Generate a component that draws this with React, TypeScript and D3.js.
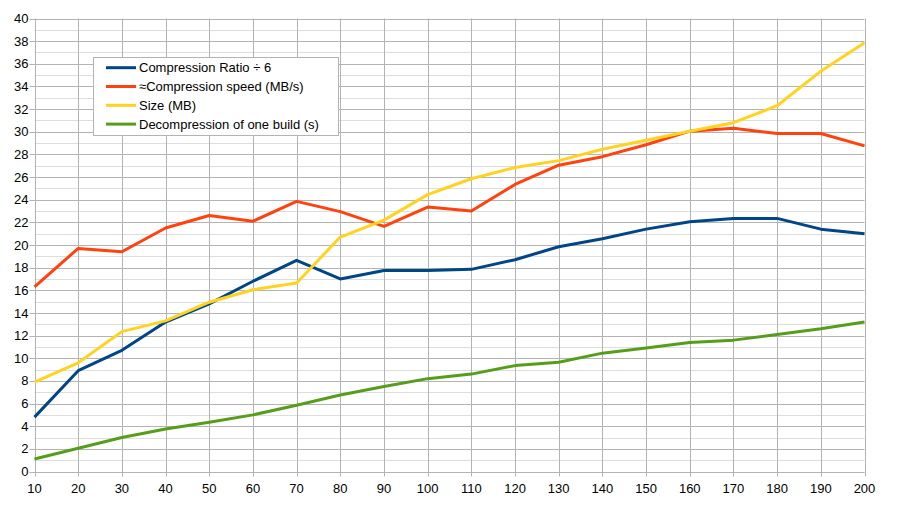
import React from "react";
import * as d3 from "d3";

const xValues = [10, 20, 30, 40, 50, 60, 70, 80, 90, 100, 110, 120, 130, 140, 150, 160, 170, 180, 190, 200];
const ratio = [4.8, 8.9, 10.7, 13.2, 14.8, 16.8, 18.65, 17.0, 17.75, 17.75, 17.85, 18.7, 19.85, 20.55, 21.4, 22.05, 22.35, 22.35, 21.4, 21.0];
const speed = [16.3, 19.7, 19.4, 21.5, 22.6, 22.1, 23.85, 22.95, 21.65, 23.35, 23.0, 25.35, 27.05, 27.8, 28.85, 30.05, 30.3, 29.85, 29.85, 28.75];
const size = [7.9, 9.6, 12.35, 13.3, 14.95, 16.05, 16.65, 20.7, 22.2, 24.45, 25.85, 26.85, 27.45, 28.45, 29.25, 30.05, 30.8, 32.3, 35.35, 37.85];
const decomp = [1.1, 2.05, 3.0, 3.75, 4.35, 5.0, 5.85, 6.75, 7.5, 8.2, 8.6, 9.35, 9.65, 10.45, 10.9, 11.4, 11.6, 12.1, 12.6, 13.2];
const seriesNames = ["Compression Ratio ÷ 6", "≈Compression speed (MB/s)", "Size (MB)", "Decompression of one build (s)"];
const seriesColors = ["#004586", "#ff420e", "#ffd320", "#579d1c"];
const yTicks = d3.range(0, 41, 2);
const yMinor = d3.range(1, 40, 2);

export default function App() {
  const W = 900, H = 506;
  const left = 34.5, right = 864.5, top = 18.5, bottom = 471.5;
  const x = d3.scaleLinear().domain([10, 200]).range([left, right]);
  const y = d3.scaleLinear().domain([0, 40]).range([bottom, top]);
  const allSeries = [ratio, speed, size, decomp];
  const line = d3.line<number>().x((_, i) => x(xValues[i])).y(d => y(d));
  const font = "'Liberation Sans', Arial, sans-serif";
  return (
    <svg width={W} height={H} style={{ position: "absolute", left: 0, top: 0, background: "#fff" }} fontFamily={font}>
      <rect x={0} y={0} width={W} height={H} fill="#fff" />
      {yMinor.map(v => (
        <line key={"m" + v} x1={left} x2={right} y1={Math.round(y(v)) + 0.5} y2={Math.round(y(v)) + 0.5} stroke="#dddddd" strokeWidth={1} />
      ))}
      {yTicks.map(v => (
        <line key={"g" + v} x1={left - 5} x2={right} y1={Math.round(y(v)) + 0.5} y2={Math.round(y(v)) + 0.5} stroke="#b3b3b3" strokeWidth={1} />
      ))}
      {xValues.map(v => (
        <line key={"v" + v} x1={Math.round(x(v)) + 0.5} x2={Math.round(x(v)) + 0.5} y1={top} y2={bottom + 5} stroke="#b3b3b3" strokeWidth={1} />
      ))}
      {yTicks.map(v => (
        <text key={"yt" + v} x={left - 6} y={y(v)} dy="0.35em" textAnchor="end" fontSize={13} fill="#000">{v}</text>
      ))}
      {xValues.map(v => (
        <text key={"xt" + v} x={x(v)} y={bottom + 21} textAnchor="middle" fontSize={13} fill="#000">{v}</text>
      ))}
      {allSeries.map((s, i) => (
        <path key={"s" + i} d={line(s) || ""} fill="none" stroke={seriesColors[i]} strokeWidth={3} strokeLinejoin="round" />
      ))}
      <g>
        <rect x={93.5} y={57.5} width={245} height={78} fill="#fff" stroke="#b3b3b3" strokeWidth={1} />
        {seriesNames.map((n, i) => {
          const cy = 67.7 + i * 18.8;
          return (
            <g key={"l" + i}>
              <line x1={106} x2={136} y1={cy} y2={cy} stroke={seriesColors[i]} strokeWidth={3} />
              <text x={139} y={cy} dy="0.35em" fontSize={13} fill="#000">{n}</text>
            </g>
          );
        })}
      </g>
    </svg>
  );
}
